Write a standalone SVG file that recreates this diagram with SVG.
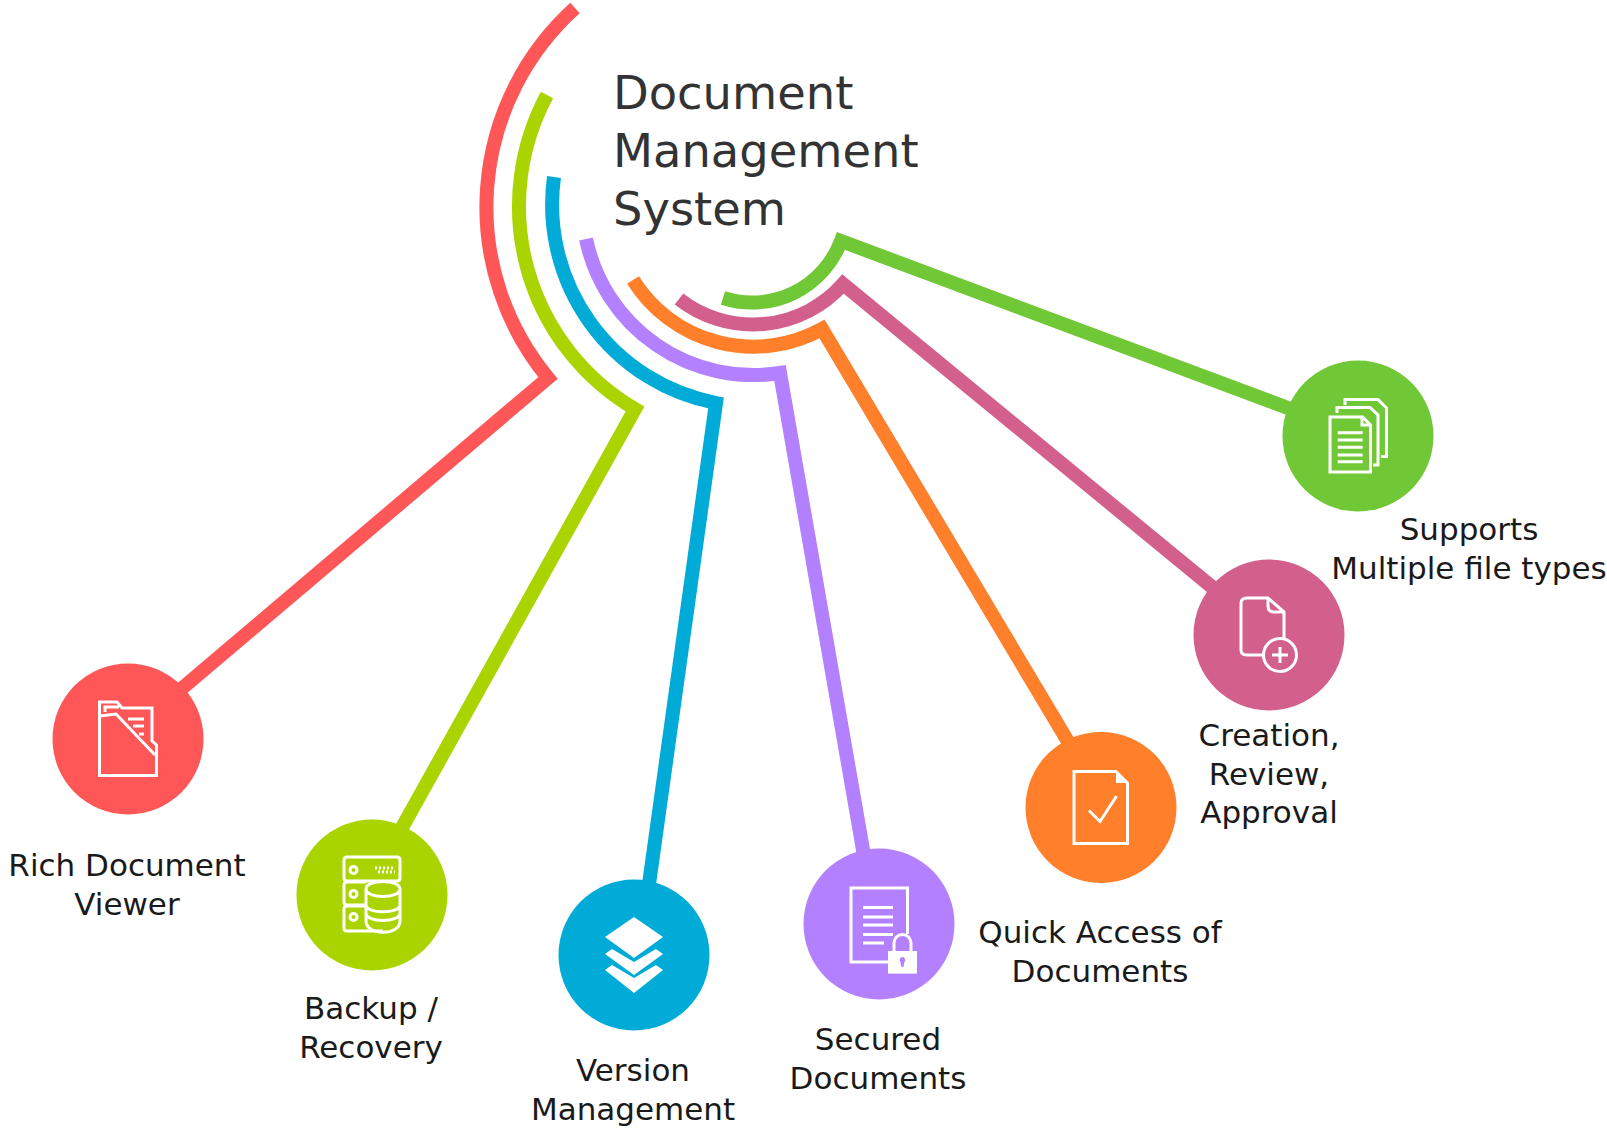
<svg xmlns="http://www.w3.org/2000/svg" width="1607" height="1128" viewBox="0 0 1607 1128">
<style>
text{font-family:"DejaVu Sans",sans-serif;fill:#1a1a1a;font-size:31px;text-anchor:middle}
.t{font-size:46.4px;fill:#333;text-anchor:start}
.c{fill:none;stroke-width:14;stroke-linejoin:miter;stroke-miterlimit:10}
.i{fill:none;stroke:#fff;stroke-width:3}
.w{fill:#fff}
</style>
<rect width="1607" height="1128" fill="#fff"/>
<g id="connectors">
<path class="c" stroke="#ff5757" d="M575 8A268 268 0 0 0 548 378L140 724"/>
<path class="c" stroke="#aad400" d="M547 95A235 235 0 0 0 635 409L384 860"/>
<path class="c" stroke="#00acd7" d="M554 177A202 202 0 0 0 716 403L644 920"/>
<path class="c" stroke="#b380ff" d="M586 239A171 171 0 0 0 780 373L870 890"/>
<path class="c" stroke="#ff7f2a" d="M633 280A142 142 0 0 0 822 329L1085 770"/>
<path class="c" stroke="#d35f8d" d="M679 299A120 120 0 0 0 843 284L1240 610"/>
<path class="c" stroke="#71c837" d="M723 298A95 95 0 0 0 841 241L1320 420"/>
</g>
<g id="title"><text class="t" x="613" y="109">Document</text><text class="t" x="613" y="167">Management</text><text class="t" x="613" y="225">System</text></g>
<g id="node-viewer">
<circle cx="128" cy="739" r="75.5" fill="#ff5757"/>
<path class="i" d="M99.5 775.5V702H117L122 708H152V741L156.5 745V775.5ZM100 716L116 714L155 755M105 712V707H119M128 719H144M133 726H144M139 734H144"/>
<text x="127" y="876">Rich Document</text><text x="127" y="915">Viewer</text>
</g>
<g id="node-backup">
<circle cx="372" cy="895" r="75.5" fill="#aad400"/>
<path class="i" d="M347 857H397Q400 857 400 860V878Q400 881 397 881H347Q344 881 344 878V860Q344 857 347 857ZM366 882H347Q344 882 344 885V902Q344 905 347 905H366M366 906H347Q344 906 344 909V928Q344 931 347 931H383"/>
<circle class="i" cx="353.500" cy="870" r="3.500"/><circle class="i" cx="353.500" cy="894" r="3.500"/><circle class="i" cx="353.500" cy="917" r="3.500"/>
<path class="i" stroke-dasharray="2 2" d="M375 868H395M378 872H395"/>
<path class="i" d="M366 889C366 879 400 879 400 889V921C400 936 366 936 366 921ZM366 889C366 899 400 899 400 889M366 905C366 914 400 914 400 905M366 913C366 923 400 923 400 913"/>
<text x="371" y="1019">Backup /</text><text x="371" y="1058">Recovery</text>
</g>
<g id="node-version">
<circle cx="634" cy="955" r="75.5" fill="#00acd7"/>
<path class="w" d="M634 917L663 937L634 958L605 937ZM605 954L612 949L634 962L656 949L663 954L634 975ZM605 970L612 965L634 978L656 965L663 970L634 993Z"/>
<text x="633" y="1081">Version</text><text x="633" y="1120">Management</text>
</g>
<g id="node-secured">
<circle cx="879" cy="924" r="75.5" fill="#b380ff"/>
<path class="i" d="M889 962H851V888H907.500V934M863 907.600H893M863 917H893M863 925H893M863 934.400H893M863 943H884"/>
<path class="i" stroke-width="3.500" d="M894 951V943A8.500 8.500 0 0 1 911 943V951"/>
<path class="w" d="M888 951H917V973.600H888Z"/><path fill="#b380ff" d="M902.400 957a3 3 0 0 1 2 5l-1 5h-2l-1-5a3 3 0 0 1 2-5Z"/>
<text x="878" y="1050">Secured</text><text x="878" y="1089">Documents</text>
</g>
<g id="node-quick">
<circle cx="1101" cy="807.500" r="75.5" fill="#ff7f2a"/>
<path class="i" stroke-width="4.500" d="M1074 771.500H1116L1127.500 783V843.500H1074Z"/>
<path class="w" d="M1116 772L1127 783H1116Z"/>
<path class="i" stroke-width="4.500" d="M1089 810.500L1100 821.500L1116.600 796"/>
<text x="1100" y="943">Quick Access of</text><text x="1100" y="982">Documents</text>
</g>
<g id="node-creation">
<circle cx="1269" cy="635" r="75.500" fill="#d35f8d"/>
<path class="i" d="M1263 655H1247Q1241 655 1241 650V603Q1241 598 1247 598H1268L1284 612V638M1268 598V606Q1268 612 1274 612H1284"/>
<circle class="i" cx="1280" cy="655" r="16.500"/><path class="i" d="M1280 647V663M1272 655H1288"/>
<text x="1269" y="746">Creation,</text><text x="1269" y="785">Review,</text><text x="1269" y="823">Approval</text>
</g>
<g id="node-supports">
<circle cx="1358" cy="436" r="75.500" fill="#71c837"/>
<path class="i" d="M1330 417H1362.700L1370.500 425V472H1330ZM1362 417V425H1370.500M1337 413V407.500H1370L1378 415V465H1373M1345 405V399.500H1378L1386.500 408V456.500H1381"/>
<path class="i" d="M1337.700 432.700H1362.700M1337.700 440H1362.700M1337.700 447.300H1362.700M1337.700 455H1362.700M1337.700 461.700H1362.700"/>
<text x="1469" y="540">Supports</text><text x="1469" y="579">Multiple file types</text>
</g>
</svg>
